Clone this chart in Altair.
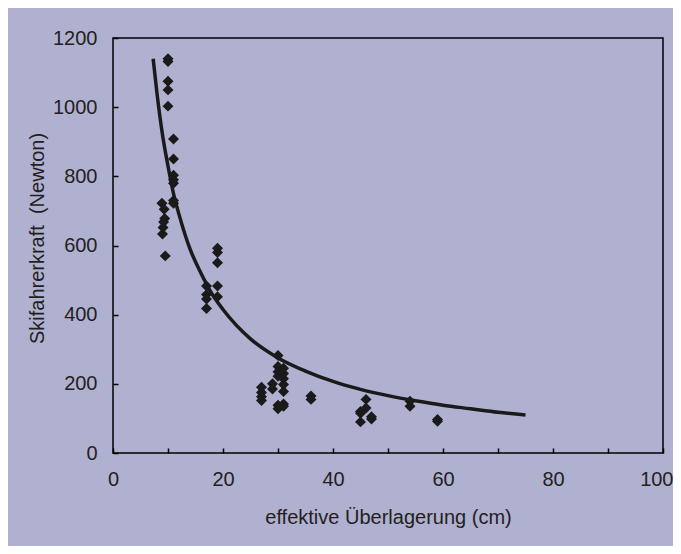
import altair as alt
import pandas as pd

# Scatter data: effective overburden (cm) vs skier force (N)
pt_x = [10, 10, 10, 10, 10,
        11, 11, 11, 11, 11, 11, 11,
        8.9, 9.3, 9.4, 9.2, 9.1, 9.0, 9.5,
        17, 17, 17, 17,
        19, 19, 19, 19, 19,
        27, 27, 27, 27,
        29, 29,
        30, 30, 30, 30, 30, 30,
        31, 31, 31, 31, 31, 31, 31,
        36, 36,
        45, 45, 45,
        46, 46,
        47, 47,
        54, 54,
        59, 59]
pt_y = [1140, 1132, 1075, 1050, 1003,
        908, 850, 803, 790, 780, 730, 722,
        722, 705, 678, 668, 652, 633, 570,
        483, 458, 445, 418,
        592, 580, 550, 483, 452,
        190, 175, 163, 152,
        200, 185,
        282, 250, 235, 222, 138, 128,
        245, 230, 215, 198, 178, 142, 135,
        165, 155,
        120, 115, 90,
        155, 130,
        105, 98,
        150, 135,
        97, 92]

# Fitted curve
curve_x = [7.3, 8, 9, 10, 11, 12, 14, 16, 18, 20, 25, 30, 35, 40, 45, 50, 55, 60, 65, 70, 75]
curve_y = [1140, 1040, 920, 830, 750, 690, 590, 520, 460, 415, 330, 275, 237, 207, 184, 166, 151, 138, 128, 118, 110]

x_ticks = [0, 10, 20, 30, 40, 50, 60, 70, 80, 90, 100]
y_ticks = [0, 200, 400, 600, 800, 1000, 1200]

pts = pd.DataFrame({"x": pt_x, "y": pt_y})
crv = pd.DataFrame({"x": curve_x, "y": curve_y})

FONT = "Liberation Sans"
TXT = "#231f20"

xscale = alt.Scale(domain=[0, 100], nice=False, zero=False)
yscale = alt.Scale(domain=[0, 1200], nice=False)

xaxis = alt.Axis(
    values=x_ticks,
    labelExpr="datum.value % 20 == 0 ? datum.label : ''",
    title="effektive Überlagerung (cm)",
    grid=False, domain=False, offset=-5,
    tickSize=5, tickWidth=1.5, tickColor="black",
    labelFont=FONT, labelFontSize=20, labelColor=TXT, labelPadding=16,
    labelFlush=False,
    labelAlign={"condition": {"test": "datum.value == 100", "value": "right"}, "value": "center"},
    labelOffset={"condition": {"test": "datum.value == 100", "value": 10}, "value": 0},
    titleFont=FONT, titleFontSize=20, titleFontWeight="normal", titleColor=TXT,
    titleY=69, titleBaseline="middle",
)
yaxis = alt.Axis(
    values=y_ticks,
    format="d",
    title="Skifahrerkraft\u00a0 (Newton)",
    grid=False, domain=False, offset=-5,
    tickSize=5, tickWidth=1.5, tickColor="black",
    labelFont=FONT, labelFontSize=20, labelColor=TXT, labelPadding=16,
    labelFlush=False,
    titleFont=FONT, titleFontSize=20, titleFontWeight="normal", titleColor=TXT,
    titleX=-81, titleY=200, titleBaseline="middle", titleAlign="center", titleAngle=270,
)

points = alt.Chart(pts).mark_point(
    shape="diamond", filled=True, size=120, color="#1a1a1a", opacity=1
).encode(
    x=alt.X("x:Q", scale=xscale, axis=xaxis),
    y=alt.Y("y:Q", scale=yscale, axis=yaxis),
)

line = alt.Chart(crv).mark_line(color="#1a1a1a", strokeWidth=3.5, interpolate="monotone").encode(
    x=alt.X("x:Q", scale=xscale),
    y=alt.Y("y:Q", scale=yscale),
)

chart = alt.layer(points, line).properties(
    width=550, height=415,
    background="#b0b0d0",
    autosize=alt.AutoSizeParams(type="none"),
    padding={"left": 105, "top": 30, "right": 10, "bottom": 93},
).configure_view(stroke="black", strokeWidth=1.5)

chart.save("out.html", embed_options={"renderer": "svg", "actions": False})
